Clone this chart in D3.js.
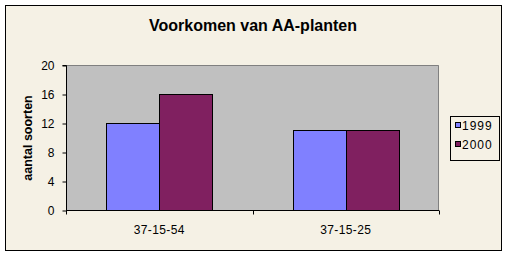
<!DOCTYPE html>
<html>
<head>
<meta charset="utf-8">
<script src="https://cdn.jsdelivr.net/npm/d3@7"></script>
<style>
html,body{margin:0;padding:0;background:#ffffff;}
svg{display:block;}
text{font-family:"Liberation Sans",Arial,sans-serif;}
</style>
</head>
<body>
<svg id="chart" width="508" height="257"></svg>
<script>
const title = "Voorkomen van AA-planten";
const yTitle = "aantal soorten";
const categories = ["37-15-54", "37-15-25"];
const seriesNames = ["1999", "2000"];
const values1999 = [12, 11];
const values2000 = [16, 11];
const yTicks = [0, 4, 8, 12, 16, 20];
const colors = ["#8080FF", "#802060"];

const svg = d3.select("#chart");
const plot = {left: 66, top: 65, right: 439, bottom: 210};

// outer frame
svg.append("rect").attr("x", 5.5).attr("y", 5.5).attr("width", 496).attr("height", 245)
  .attr("fill", "#F5F1E5").attr("stroke", "#000").attr("stroke-width", 1);

// title
svg.append("text").attr("x", 253).attr("y", 30.5).attr("text-anchor", "middle")
  .attr("font-size", "16px").attr("font-weight", "bold").attr("fill", "#000").text(title);

const x0 = d3.scaleBand().domain(categories).range([plot.left, plot.right]).paddingInner(0).paddingOuter(0);
const y = d3.scaleLinear().domain([0, 20]).range([plot.bottom, plot.top]);

// plot area
svg.append("rect").attr("x", plot.left).attr("y", plot.top)
  .attr("width", plot.right - plot.left).attr("height", plot.bottom - plot.top)
  .attr("fill", "#C0C0C0");
svg.append("path")
  .attr("d", `M${plot.left+0.5},${plot.bottom}V${plot.top+0.5}H${plot.right-0.5}V${plot.bottom}`)
  .attr("fill", "none").attr("stroke", "#808080");

// bars
const barW = 53;
const data = categories.map((c, i) => ({cat: c, vals: [values1999[i], values2000[i]]}));
const x1 = d3.scaleBand().domain(seriesNames).range([0, 2 * barW]);
data.forEach(d => {
  const cx = x0(d.cat) + x0.bandwidth() / 2;
  d.vals.forEach((v, j) => {
    const s = seriesNames[j];
    svg.append("rect")
      .attr("x", Math.round(cx - barW) + x1(s) + 0.5)
      .attr("y", Math.round(y(v)) + 0.5)
      .attr("width", x1.bandwidth())
      .attr("height", y(0) - Math.round(y(v)))
      .attr("fill", colors[j]).attr("stroke", "#000").attr("stroke-width", 1);
  });
});

// y axis
const yAxis = d3.axisLeft(y).tickValues(yTicks).tickSize(4).tickPadding(8).tickFormat(d3.format("d"));
const ga = svg.append("g").attr("transform", `translate(${plot.left + 0.5},0.5)`).call(yAxis);
ga.select(".domain").attr("stroke", "#000").attr("d", `M-4,${plot.top}H0V${plot.bottom}`);
ga.selectAll(".tick line").attr("stroke", "#000");
ga.selectAll(".tick text").attr("font-size", "12px").attr("fill", "#000")
  .attr("font-family", "Liberation Sans, Arial, sans-serif");

// x axis
const xAxis = d3.axisBottom(x0).tickSize(0).tickPadding(15);
const gx = svg.append("g").attr("transform", `translate(0,${plot.bottom + 0.5})`).call(xAxis);
gx.select(".domain").attr("stroke", "#000").attr("d", `M${plot.left},0H${plot.right}`);
gx.selectAll(".tick text").attr("font-size", "12px").attr("fill", "#000")
  .attr("letter-spacing", "0.4px")
  .attr("font-family", "Liberation Sans, Arial, sans-serif");
const seps = [plot.left, x0(categories[1]), plot.right];
gx.selectAll(".sep").data(seps).enter().append("line")
  .attr("x1", d => Math.round(d) + 0.5).attr("x2", d => Math.round(d) + 0.5)
  .attr("y1", 0).attr("y2", 4).attr("stroke", "#000");

// y title
svg.append("text")
  .attr("transform", "translate(32,138) rotate(-90)")
  .attr("text-anchor", "middle").attr("font-size", "12.5px").attr("font-weight", "bold")
  .attr("fill", "#000").text(yTitle);

// legend
const lg = svg.append("g");
lg.append("rect").attr("x", 450.5).attr("y", 116.5).attr("width", 49).attr("height", 44)
  .attr("fill", "#F5F1E5").attr("stroke", "#000");
seriesNames.forEach((s, i) => {
  const yy = 122 + i * 19;
  lg.append("rect").attr("x", 455.5).attr("y", yy + 0.5).attr("width", 5).attr("height", 5)
    .attr("fill", colors[i]).attr("stroke", "#000");
  lg.append("text").attr("x", 462).attr("y", yy + 8).attr("font-size", "12px")
    .attr("letter-spacing", "1px")
    .attr("fill", "#000").text(s);
});
</script>
</body>
</html>
